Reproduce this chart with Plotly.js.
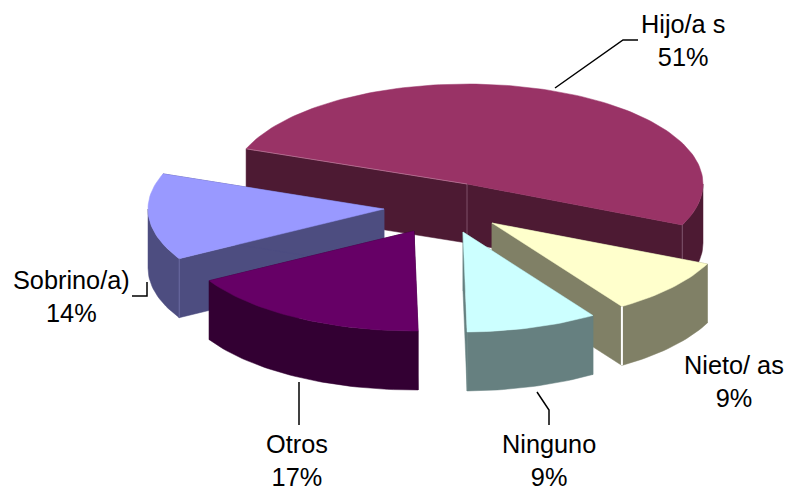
<!DOCTYPE html>
<html>
<head>
<meta charset="utf-8">
<script src="https://cdn.plot.ly/plotly-3.0.1.min.js"></script>
<style>html,body{margin:0;padding:0;background:#fff}#chart{width:787px;height:493px}</style>
</head>
<body>
<div id="chart"></div>
<script>
// Parentesco: exploded 3D pie, slices in clockwise order
const categories = ['Hijo/a s', 'Nieto/ as', 'Ninguno', 'Otros', 'Sobrino/a)'];
const shares = [51, 9, 9, 17, 14];
const topColors = ['#993366', '#FFFFCC', '#CCFFFF', '#660066', '#9999FF'];
const wallColors = ['#4D1A33', '#808066', '#668080', '#330033', '#4D4D80'];

// Projection of the tilted disc
const RX = 236, RY = 100, DEPTH = 59, START_DEG = 159.4;
const apexX = [467, 492, 463, 414, 384];
const apexY = [184, 223, 232, 231, 209];
const drawOrder = [0, 4, 3, 1, 2];

// Label placement and leader lines
const labelX = [683, 734, 549, 297, 71];
const labelY = [40, 381, 460, 460, 296];
const leaderLines = [
  {x: [555, 623, 638], y: [88, 40, 40]},
  {x: [132, 147, 147], y: [296, 296, 282]},
  {x: [299, 299], y: [382, 425]},
  {x: [537, 549, 549], y: [392, 410, 425]}
];

const rad = d => d * Math.PI / 180;
const rim = (i, t, drop) => [apexX[i] + RX * Math.cos(rad(t)), apexY[i] - RY * Math.sin(rad(t)) + drop];

function arcPoints(i, from, to, drop) {
  const n = Math.max(2, Math.ceil(Math.abs(from - to) / 1.5));
  const pts = [];
  for (let k = 0; k <= n; k++) pts.push(rim(i, from + (to - from) * k / n, drop));
  return pts;
}

function polygon(pts, color) {
  return {
    x: pts.map(p => p[0]), y: pts.map(p => p[1]),
    mode: 'lines', fill: 'toself', fillcolor: color,
    line: {color: color, width: 0.5}, hoverinfo: 'skip', showlegend: false
  };
}

function edge(p, q, color, width) {
  return {
    x: [p[0], q[0]], y: [p[1], q[1]], mode: 'lines',
    line: {color: color, width: width}, hoverinfo: 'skip', showlegend: false
  };
}

// Start and end angle of every slice, from its share
const total = shares.reduce((a, b) => a + b, 0);
const spans = [];
let cursor = START_DEG;
shares.forEach(s => {
  const next = cursor - s / total * 360;
  spans.push([cursor, next]);
  cursor = next;
});

const traces = [];
drawOrder.forEach(i => {
  const [a, b] = spans[i];
  const apex = [apexX[i], apexY[i]];
  const apexLow = [apexX[i], apexY[i] + DEPTH];

  // Flat cut faces, one for each radial edge
  [a, b].forEach(t => {
    traces.push(polygon([apex, rim(i, t, 0), rim(i, t, DEPTH), apexLow, apex], wallColors[i]));
  });

  // Rounded outer wall: only the lower half of the rim faces the viewer
  const from = Math.min(a, 0), to = Math.max(b, -180);
  if (from > to) {
    const upper = arcPoints(i, from, to, 0);
    const lower = arcPoints(i, to, from, DEPTH);
    traces.push(polygon(upper.concat(lower, [upper[0]]), wallColors[i]));
  }

  // Top face
  traces.push(polygon([apex].concat(arcPoints(i, a, b, 0), [apex]), topColors[i]));

  // Thin highlights on the slice corners
  if (i === 0) {
    traces.push(edge(apex, apexLow, '#8a6078', 0.8));
    traces.push(edge(rim(i, b, 0), rim(i, b, DEPTH), '#8a6078', 0.8));
    traces.push(edge(rim(i, a, 0), apex, '#C58AA6', 0.6));
  }
  if (i === 1) traces.push(edge(rim(i, b, 0), rim(i, b, DEPTH), '#FFFFFF', 2));
  if (i === 4) traces.push(edge(rim(i, a, 0), rim(i, a, DEPTH), '#6A6AA0', 1));
});

leaderLines.forEach(l => traces.push({
  x: l.x, y: l.y, mode: 'lines',
  line: {color: '#000000', width: 1.5}, hoverinfo: 'skip', showlegend: false
}));

const annotations = categories.map((c, i) => ({
  x: labelX[i], y: labelY[i], xref: 'x', yref: 'y',
  text: c + '<br>' + shares[i] + '%',
  showarrow: false, xanchor: 'center', yanchor: 'middle', align: 'center',
  font: {family: '"Liberation Sans", Arial, sans-serif', size: 25.3, color: '#000000'}
}));

Plotly.newPlot('chart', traces, {
  width: 787, height: 493,
  margin: {l: 0, r: 0, t: 0, b: 0},
  paper_bgcolor: '#FFFFFF', plot_bgcolor: '#FFFFFF',
  showlegend: false,
  xaxis: {range: [0, 787], visible: false, fixedrange: true},
  yaxis: {range: [493, 0], visible: false, fixedrange: true},
  annotations: annotations
}, {displayModeBar: false, staticPlot: true});
</script>
</body>
</html>
